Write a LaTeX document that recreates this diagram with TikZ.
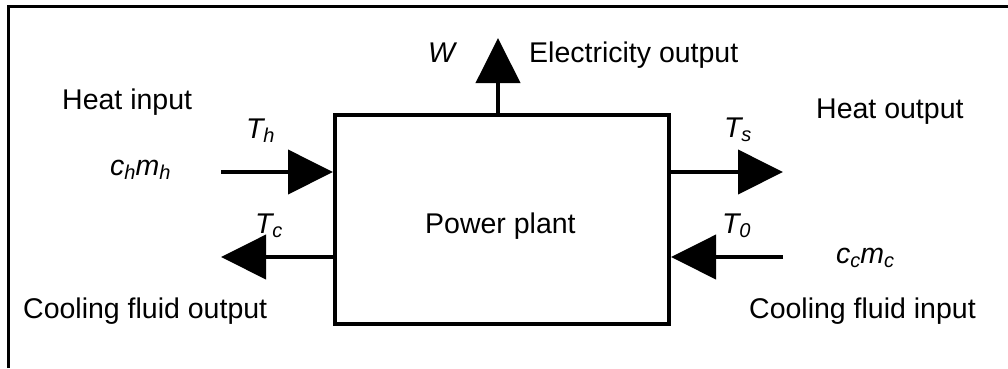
\documentclass[tikz,border=0pt]{standalone}
\usepackage{fontspec}
\setmainfont{Liberation Sans}
\usetikzlibrary{arrows.meta}
\newcommand\vsub[3][0pt]{\textit{#2}\kern#1\raisebox{-4.5pt}{\fontsize{20}{20}\selectfont\itshape #3}}
\begin{document}
\begin{tikzpicture}[x=1pt,y=-1pt,
  lbl/.style={inner sep=0pt,anchor=base west,font=\fontsize{28.5}{34}\selectfont},
  plantbox/.style={draw,line width=4pt,minimum width=334pt,minimum height=209pt,inner sep=0pt},
  flow/.style={line width=4pt,-{Triangle[length=45pt,width=44pt]}},
  frame/.style={line width=3pt}]
\useasboundingbox (0,0) rectangle (1008,368);
\draw[frame] (8.5,368) -- (8.5,6) -- (1008,6);
\node[plantbox] (plant) at (502,219.5) {};
\node[lbl] (plantlbl) at (425,233) {Power plant};
% free ends
\coordinate (hin) at (221,172);
\coordinate (cout) at (221,257);
\coordinate (hout) at (783,172);
\coordinate (cin) at (783,257);
\coordinate (wtip) at (498,38);
% connectors
\draw[flow] (hin) -- (hin -| plant.west);
\draw[flow] (cout -| plant.west) -- (cout);
\draw[flow] (hout -| plant.east) -- (hout);
\draw[flow] (cin) -- (cin -| plant.east);
\draw[flow] (wtip |- plant.north) -- (wtip);
% labels
\node[lbl] (heatin) at (62,109) {Heat input};
\node[lbl] (w) at (428,62) {\textit{W}};
\node[lbl] (elec) at (529,62) {Electricity output};
\node[lbl] (th) at (246,138) {\vsub[-2pt]{T}{h}};
\node[lbl] (chmh) at (110,175) {\vsub{c}{h}\vsub{m}{h}};
\node[lbl] (tc) at (255,233) {\vsub[-2pt]{T}{c}};
\node[lbl] (coolout) at (23,318) {Cooling fluid output};
\node[lbl] (heatout) at (816,118) {Heat output};
\node[lbl] (ts) at (724,137) {\vsub[-2pt]{T}{s}};
\node[lbl] (t0) at (722,233) {\vsub[-2pt]{T}{0}};
\node[lbl] (ccmc) at (836,263) {\vsub{c}{c}\vsub{m}{c}};
\node[lbl] (coolin) at (749,318) {Cooling fluid input};
\end{tikzpicture}
\end{document}
